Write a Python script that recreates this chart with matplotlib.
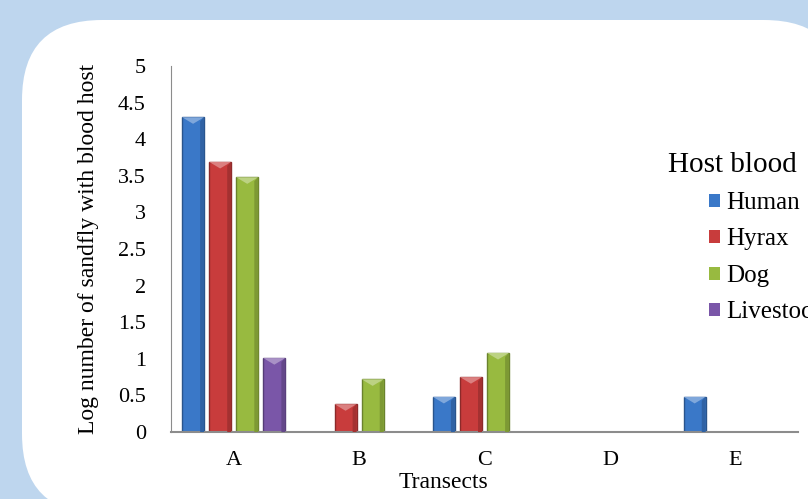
import numpy as np
import matplotlib
matplotlib.use('Agg')
import matplotlib.pyplot as plt
from matplotlib.patches import FancyBboxPatch, Polygon
from matplotlib.transforms import IdentityTransform
from matplotlib.colors import to_rgb

plt.rcParams['font.family'] = ['Liberation Serif', 'DejaVu Serif']

# log counts of blood-fed sandflies per transect
transects = ['A', 'B', 'C', 'D', 'E']
human = [4.30, 0, 0.48, 0, 0.48]
hyrax = [3.69, 0.38, 0.75, 0, 0]
dog = [3.48, 0.72, 1.08, 0, 0]
livestock = [1.01, 0, 0, 0, 0]

hosts = ['Human', 'Hyrax', 'Dog', 'Livestock']
series = [human, hyrax, dog, livestock]
colors = ['#3A78C8', '#C83C3C', '#98BA40', '#7A56A8']

fig = plt.figure(figsize=(8.08, 4.99), dpi=100)
fig.patch.set_facecolor('#BED6EE')

# white rounded panel behind the chart (pixel coordinates)
panel = FancyBboxPatch((22, -15), 822, 494,
                       boxstyle='round,pad=0,rounding_size=80',
                       transform=IdentityTransform(), facecolor='white',
                       edgecolor='none', zorder=-10)
fig.patches.append(panel)

ax = fig.add_axes([171 / 808, 67 / 499, 627 / 808, 366 / 499])
ax.set_facecolor('none')
ax.set_zorder(1)

def shade(c, f):
    r, g, b = to_rgb(c)
    if f < 1:
        return (r * f, g * f, b * f)
    return (r + (1 - r) * (f - 1), g + (1 - g) * (f - 1), b + (1 - b) * (f - 1))

x = np.arange(len(transects))
pitch = 0.216
width = 0.176
for i, (name, vals, col) in enumerate(zip(hosts, series, colors)):
    vals = np.array(vals)
    pos = x + (i - 1.5) * pitch
    keep = vals > 0
    bars = ax.bar(pos[keep], vals[keep], width, color=col,
                  edgecolor=shade(col, 0.7), linewidth=1.0, zorder=2)
    # light bevel at the top of each bar
    for b in bars:
        bx, bw, bh = b.get_x(), b.get_width(), b.get_height()
        d = 0.09
        tri = Polygon([(bx, bh), (bx + bw, bh), (bx + bw * 0.5, bh - d)],
                      closed=True, facecolor=shade(col, 1.35),
                      edgecolor='none', zorder=3)
        ax.add_patch(tri)
        # darker right side for depth
        ax.add_patch(Polygon([(bx + bw * 0.82, 0), (bx + bw, 0),
                              (bx + bw, bh), (bx + bw * 0.82, bh - d * 0.6)],
                             closed=True, facecolor=shade(col, 0.82),
                             edgecolor='none', zorder=3))
    ax.bar([np.nan], [np.nan], width, color=col, label=name)

ax.set_xlim(-0.5, 4.5)
ax.set_ylim(0, 5)
ax.set_yticks(np.arange(0, 5.01, 0.5))
ax.set_yticklabels(['0', '0.5', '1', '1.5', '2', '2.5', '3', '3.5', '4', '4.5', '5'])
ax.set_xticks(x)
ax.set_xticklabels(transects)
ax.tick_params(axis='both', length=0, labelsize=16)
ax.tick_params(axis='y', pad=18)
ax.tick_params(axis='x', pad=14)

for s in ['top', 'right']:
    ax.spines[s].set_visible(False)
ax.spines['left'].set_color('#8C8C8C')
ax.spines['bottom'].set_color('#8C8C8C')
ax.spines['bottom'].set_linewidth(1.5)

ax.set_ylabel('Log number of sandfly with blood host', fontsize=17, labelpad=14)
fig.text(443 / 808, 1 - 482 / 499, 'Transects', fontsize=17,
         ha='center', va='center')

fig.text(668 / 808, 1 - 165 / 499, 'Host blood', fontsize=21,
         ha='left', va='center')
leg = fig.legend(loc='upper left', bbox_to_anchor=(699 / 808, 1 - 182 / 499),
                 frameon=False, fontsize=18, handlelength=0.42, handleheight=0.42,
                 handletextpad=0.25, labelspacing=0.58, borderaxespad=0)

fig.savefig('out.png', dpi=100, facecolor=fig.get_facecolor())
